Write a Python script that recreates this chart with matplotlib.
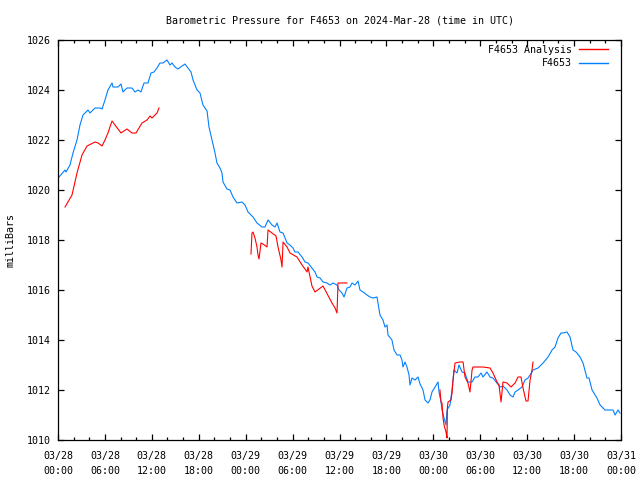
import numpy as np
import matplotlib
matplotlib.use('Agg')
from matplotlib import pyplot as plt
from matplotlib.ticker import MultipleLocator

# hours since 2024-03-28 00:00 UTC, pressure in mbar
obs_hours = [0.13, 0.90, 1.02, 1.53, 1.92, 2.43, 2.81, 3.20, 3.84, 4.09, 4.73, 5.37, 5.63,
             6.01, 6.39, 6.91, 7.03, 7.67, 8.06, 8.31, 8.82, 9.46, 9.85, 10.23, 10.61,
             11.00, 11.51, 11.89, 12.28, 12.66, 13.04, 13.43, 13.94, 14.32, 14.58, 14.96,
             15.35, 15.86, 16.24, 16.63, 17.01, 17.27, 17.78, 18.16, 18.54, 19.06, 19.31,
             19.69, 20.08, 20.33, 20.72, 20.97, 21.10, 21.61, 22.00, 22.38, 22.89, 23.53,
             23.92, 24.30, 24.94, 25.45, 26.09, 26.47, 26.86, 27.37, 27.75, 28.01, 28.39,
             28.78, 29.29, 29.67, 30.05, 30.31, 30.69, 31.21, 31.59, 31.97, 32.48, 32.87,
             33.12, 33.51, 33.89, 34.40, 34.79, 35.17, 35.68, 35.94, 36.32, 36.58, 36.96,
             37.34, 37.60, 37.98, 38.37, 38.62, 39.01, 39.52, 39.90, 40.29, 40.80, 40.92,
             41.18, 41.56, 41.82, 42.08, 42.20, 42.71, 42.97, 43.36, 43.74, 43.99, 44.12,
             44.38, 44.63, 44.89, 45.02, 45.27, 45.66, 46.04, 46.30, 46.68, 46.94, 47.32,
             47.57, 47.83, 48.21, 48.60, 48.73, 48.98, 49.11, 49.37, 49.62, 49.75, 50.13,
             50.39, 50.52, 50.64, 51.03, 51.28, 51.67, 52.05, 52.43, 52.95, 53.33, 53.71,
             54.10, 54.35, 54.86, 55.25, 55.63, 56.14, 56.53, 56.91, 57.42, 57.81, 58.19,
             58.45, 58.83, 59.34, 59.72, 60.11, 60.62, 60.75, 61.39, 62.03, 62.67, 63.18,
             63.56, 63.94, 64.33, 64.58, 65.09, 65.48, 65.86, 66.25, 66.76, 67.14, 67.65,
             67.91, 68.30, 68.93, 69.32, 69.70, 69.96, 70.98, 71.24, 71.62, 71.87]
obs_mbar = [1020.52, 1020.80, 1020.72, 1021.00, 1021.48, 1022.00, 1022.60, 1023.00, 1023.20,
            1023.08, 1023.28, 1023.28, 1023.24, 1023.60, 1024.00, 1024.28, 1024.12, 1024.12,
            1024.24, 1023.92, 1024.08, 1024.08, 1023.92, 1024.00, 1023.92, 1024.28, 1024.28,
            1024.68, 1024.72, 1024.88, 1025.08, 1025.08, 1025.20, 1025.00, 1025.08, 1024.92,
            1024.84, 1024.96, 1025.04, 1024.88, 1024.72, 1024.40, 1024.00, 1023.88, 1023.40,
            1023.16, 1022.52, 1022.00, 1021.48, 1021.08, 1020.88, 1020.68, 1020.32, 1020.04,
            1020.00, 1019.72, 1019.48, 1019.52, 1019.40, 1019.12, 1018.92, 1018.68, 1018.52,
            1018.52, 1018.80, 1018.60, 1018.52, 1018.68, 1018.32, 1018.28, 1017.88, 1017.80,
            1017.68, 1017.52, 1017.52, 1017.32, 1017.12, 1017.08, 1016.88, 1016.72, 1016.52,
            1016.48, 1016.32, 1016.28, 1016.20, 1016.28, 1016.20, 1016.00, 1015.88, 1015.72,
            1016.08, 1016.12, 1016.28, 1016.20, 1016.36, 1016.00, 1015.92, 1015.80, 1015.72,
            1015.68, 1015.72, 1015.48, 1015.00, 1014.80, 1014.52, 1014.60, 1014.20, 1014.00,
            1013.60, 1013.40, 1013.40, 1013.20, 1012.92, 1013.12, 1012.92, 1012.60, 1012.20,
            1012.48, 1012.40, 1012.52, 1012.24, 1012.00, 1011.60, 1011.48, 1011.60, 1011.92,
            1012.12, 1012.32, 1011.92, 1011.52, 1011.20, 1010.88, 1010.60, 1011.20, 1011.40,
            1012.00, 1012.40, 1012.80, 1012.68, 1013.00, 1012.72, 1012.68, 1012.32, 1012.32,
            1012.52, 1012.52, 1012.68, 1012.52, 1012.72, 1012.52, 1012.48, 1012.28, 1012.12,
            1012.16, 1012.00, 1011.80, 1011.72, 1011.92, 1012.00, 1012.12, 1012.40, 1012.48,
            1012.72, 1012.80, 1012.88, 1013.08, 1013.32, 1013.60, 1013.72, 1014.08, 1014.28,
            1014.28, 1014.32, 1014.12, 1013.60, 1013.52, 1013.32, 1013.08, 1012.48, 1012.48,
            1012.00, 1011.68, 1011.40, 1011.28, 1011.20, 1011.20, 1011.00, 1011.20, 1011.08]

# analysis runs, one per day (NaN separates the runs)
ana_hours = [0.90, 1.79, 2.43, 3.07, 3.71, 4.73, 5.12, 5.63, 6.01, 6.39, 6.91, 7.29, 8.06,
             8.82, 9.46, 9.98, 10.74, 11.38, 11.77, 12.02, 12.66, 12.92, np.nan,
             24.68, 24.81, 24.94, 25.19, 25.45, 25.58, 25.71, 25.96, 26.22, 26.73, 26.86,
             27.37, 27.88, 28.14, 28.52, 28.65, 28.78, 29.29, 29.67, 30.56, 31.21, 31.59,
             31.85, 31.97, 32.48, 32.87, 33.89, 35.04, 35.43, 35.68, 35.81, 36.07, 36.96, np.nan,
             48.85, 48.98, 49.11, 49.24, 49.37, 49.62, 49.75, 49.80, 49.88, 50.26, 50.39,
             50.52, 50.77, 51.41, 51.80, 52.05, 52.43, 52.69, 52.95, 53.07, 54.35, 55.25,
             55.63, 56.14, 56.40, 56.66, 56.91, 57.42, 57.93, 58.45, 58.83, 59.21, 59.47,
             59.85, 60.11, 60.37, 60.62, 60.75]
ana_mbar = [1019.32, 1019.80, 1020.68, 1021.40, 1021.76, 1021.92, 1021.88, 1021.76, 1022.00,
            1022.28, 1022.76, 1022.60, 1022.28, 1022.44, 1022.28, 1022.28, 1022.68, 1022.80,
            1022.96, 1022.88, 1023.08, 1023.28, np.nan,
            1017.44, 1018.28, 1018.32, 1018.08, 1017.72, 1017.40, 1017.24, 1017.88, 1017.84,
            1017.72, 1018.40, 1018.28, 1018.16, 1017.72, 1017.20, 1016.92, 1017.92, 1017.72,
            1017.48, 1017.32, 1017.00, 1016.84, 1016.72, 1016.92, 1016.16, 1015.92, 1016.16,
            1015.48, 1015.28, 1015.08, 1016.28, 1016.28, 1016.28, np.nan,
            1012.00, 1011.52, 1011.48, 1010.88, 1010.60, 1010.32, 1010.08, 1011.32, 1011.52,
            1011.60, 1011.88, 1012.40, 1013.08, 1013.12, 1013.12, 1012.52, 1012.28, 1011.92,
            1012.80, 1012.92, 1012.92, 1012.88, 1012.68, 1012.32, 1012.20, 1011.52, 1012.32,
            1012.28, 1012.12, 1012.28, 1012.52, 1012.52, 1012.08, 1011.56, 1011.56, 1012.40,
            1012.80, 1013.12]

tick_hours = [0, 6, 12, 18, 24, 30, 36, 42, 48, 54, 60, 66, 72]
tick_labels = ['03/28\n00:00', '03/28\n06:00', '03/28\n12:00', '03/28\n18:00',
               '03/29\n00:00', '03/29\n06:00', '03/29\n12:00', '03/29\n18:00',
               '03/30\n00:00', '03/30\n06:00', '03/30\n12:00', '03/30\n18:00',
               '03/31\n00:00']

plt.rcParams['font.family'] = 'DejaVu Sans Mono'
plt.rcParams['font.size'] = 7.2

fig = plt.figure(figsize=(6.4, 4.8), dpi=100)
ax = fig.add_axes([58 / 640, 40 / 480, 563 / 640, 400 / 480])

blue, = ax.plot(obs_hours, obs_mbar, color='#0080ff', lw=0.8)
red, = ax.plot(ana_hours, ana_mbar, color='#ff0000', lw=0.8)

ax.set_xlim(0, 72)
ax.set_ylim(1010, 1026)
ax.set_xticks(tick_hours)
ax.set_xticklabels(tick_labels, linespacing=1.6)
ax.xaxis.set_minor_locator(MultipleLocator(2))
ax.yaxis.set_major_locator(MultipleLocator(2))
ax.tick_params(which='both', direction='in', top=True, right=True, width=0.9,
               labelsize=7.2)
ax.tick_params(which='major', length=4, pad=5)
ax.tick_params(axis='x', which='major', pad=8)
ax.tick_params(which='minor', length=2.5)
for s in ax.spines.values():
    s.set_linewidth(0.9)

ax.set_ylabel('milliBars', labelpad=8)
ax.set_title('Barometric Pressure for F4653 on 2024-Mar-28 (time in UTC)',
             fontsize=7.2, pad=12)

leg = ax.legend([red, blue], ['F4653 Analysis', 'F4653'], loc='upper right',
                bbox_to_anchor=(1.0, 1.02), frameon=False,
                markerfirst=False, handlelength=2.9, handletextpad=0.7,
                labelspacing=0.35, borderaxespad=0.9, fontsize=7.2)
for line in leg.get_lines():
    line.set_linewidth(1.0)

plt.savefig('out.png', dpi=100)
